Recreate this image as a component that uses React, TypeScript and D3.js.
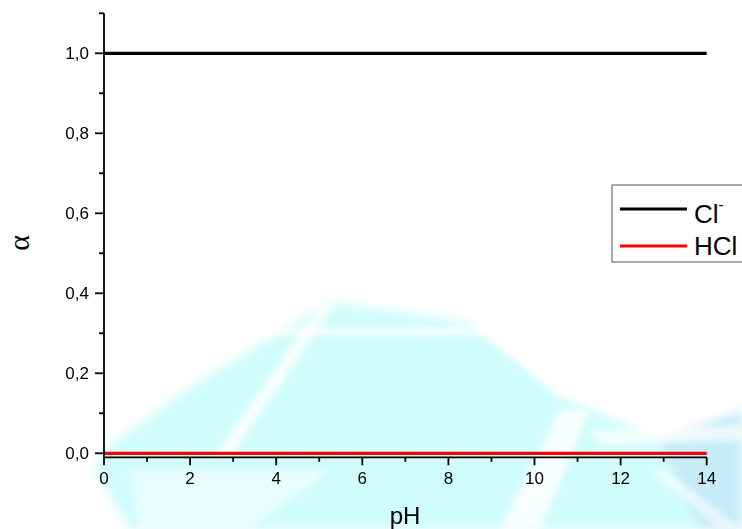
import React from "react";
import * as d3 from "d3";

const pH = [0, 1, 2, 3, 4, 5, 6, 7, 8, 9, 10, 11, 12, 13, 14];
const alphaCl = [1, 1, 1, 1, 1, 1, 1, 1, 1, 1, 1, 1, 1, 1, 1];
const alphaHCl = [0, 0, 0, 0, 0, 0, 0, 0, 0, 0, 0, 0, 0, 0, 0];
const seriesNames = ["Cl", "HCl"];
const seriesColors = ["#000000", "#ff0000"];
const xTicks = [0, 2, 4, 6, 8, 10, 12, 14];
const xMinorTicks = [1, 3, 5, 7, 9, 11, 13];
const yTicks = [0, 0.2, 0.4, 0.6, 0.8, 1.0];
const yMinorTicks = [0.1, 0.3, 0.5, 0.7, 0.9, 1.1];

const W = 742;
const H = 529;

export default function App() {
  const x = d3.scaleLinear().domain([0, 14]).range([104, 706.7]);
  const y = d3.scaleLinear().domain([-0.01, 1.1]).range([457.3, 13.3]);
  const line = d3
    .line<[number, number]>()
    .x((d) => x(d[0]))
    .y((d) => y(d[1]));
  const series = [alphaCl, alphaHCl].map((vals) =>
    pH.map((p, i) => [p, vals[i]] as [number, number])
  );
  const fmt = (v: number) => v.toFixed(1).replace(".", ",");
  const axisY = y(-0.01);
  const axisX = x(0);
  const font = "'Liberation Sans', Arial, sans-serif";

  return (
    <svg
      width={W}
      height={H}
      style={{ position: "absolute", left: 0, top: 0, background: "#fff" }}
    >
      <defs>
        <filter id="blur" x="-20%" y="-20%" width="140%" height="140%">
          <feGaussianBlur stdDeviation="5" />
        </filter>
        <filter id="blur2" x="-20%" y="-20%" width="140%" height="140%">
          <feGaussianBlur stdDeviation="3" />
        </filter>
      </defs>
      {/* watermark background */}
      <g filter="url(#blur)">
        <polygon
          points="330,302 470,322 560,395 640,430 700,470 742,529 130,529 95,470 110,445 200,380"
          fill="#c9fbfb"
          opacity={0.85}
        />
        <polygon points="660,440 742,410 742,529 700,529" fill="#c6ecf8" />
        <polygon points="120,300 330,300 200,380 110,440 100,300" fill="#ffffff" opacity={0.55} />
      </g>
      <g filter="url(#blur2)" fill="#ffffff">
        <polygon points="322,302 336,302 232,455 215,455" opacity={0.85} />
        <polygon points="205,328 520,328 520,335 205,335" opacity={0.85} />
        <polygon points="560,410 590,410 540,529 500,529" opacity={0.85} />
        <polygon points="590,430 742,425 742,440 600,445" opacity={0.7} />
        <polygon points="650,470 665,470 742,529 720,529" opacity={0.6} />
        <polygon points="420,340 520,300 742,300 742,400 640,420 560,395 470,322" opacity={1} />
        <polygon points="130,470 330,470 250,529 140,529" opacity={0.5} />
      </g>

      {/* data lines */}
      {series.map((s, i) => (
        <path
          key={seriesNames[i]}
          d={line(s) || ""}
          fill="none"
          stroke={seriesColors[i]}
          strokeWidth={3.2}
        />
      ))}

      {/* axes */}
      <line x1={axisX} x2={axisX} y1={y(1.1)} y2={axisY} stroke="#000" strokeWidth={1.8} />
      <line x1={axisX} x2={x(14)} y1={axisY} y2={axisY} stroke="#000" strokeWidth={1.8} />
      {xTicks.map((t) => (
        <g key={"xt" + t}>
          <line x1={x(t)} x2={x(t)} y1={axisY} y2={axisY + 8} stroke="#000" strokeWidth={1.8} />
          <text
            x={x(t)}
            y={484}
            textAnchor="middle"
            fontFamily={font}
            fontSize={17}
            fill="#000"
          >
            {t}
          </text>
        </g>
      ))}
      {xMinorTicks.map((t) => (
        <line key={"xm" + t} x1={x(t)} x2={x(t)} y1={axisY} y2={axisY + 4.5} stroke="#000" strokeWidth={1.8} />
      ))}
      {yTicks.map((t) => (
        <g key={"yt" + t}>
          <line x1={axisX - 9} x2={axisX} y1={y(t)} y2={y(t)} stroke="#000" strokeWidth={1.8} />
          <text
            x={89}
            y={y(t) + 6}
            textAnchor="end"
            fontFamily={font}
            fontSize={17}
            fill="#000"
          >
            {fmt(t)}
          </text>
        </g>
      ))}
      {yMinorTicks.map((t) => (
        <line key={"ym" + t} x1={axisX - 5} x2={axisX} y1={y(t)} y2={y(t)} stroke="#000" strokeWidth={1.8} />
      ))}

      {/* axis titles */}
      <text x={405} y={524} textAnchor="middle" fontFamily={font} fontSize={24} fill="#000">
        pH
      </text>
      <text
        transform="translate(29,243) rotate(-90)"
        textAnchor="middle"
        fontFamily="'Liberation Serif', 'Times New Roman', serif"
        fontSize={30}
        fill="#000"
      >
        α
      </text>

      {/* legend */}
      <rect x={612} y={185} width={140} height={77} fill="#fff" stroke="#555" strokeWidth={1} />
      <line x1={620} x2={687} y1={209} y2={209} stroke={seriesColors[0]} strokeWidth={3} />
      <line x1={620} x2={687} y1={246} y2={246} stroke={seriesColors[1]} strokeWidth={3} />
      <text x={694} y={223} fontFamily={font} fontSize={26} fill="#000">
        {seriesNames[0]}
        <tspan fontSize={15} dy={-13}>-</tspan>
      </text>
      <text x={694} y={255} fontFamily={font} fontSize={26} fill="#000">
        {seriesNames[1]}
      </text>
    </svg>
  );
}
